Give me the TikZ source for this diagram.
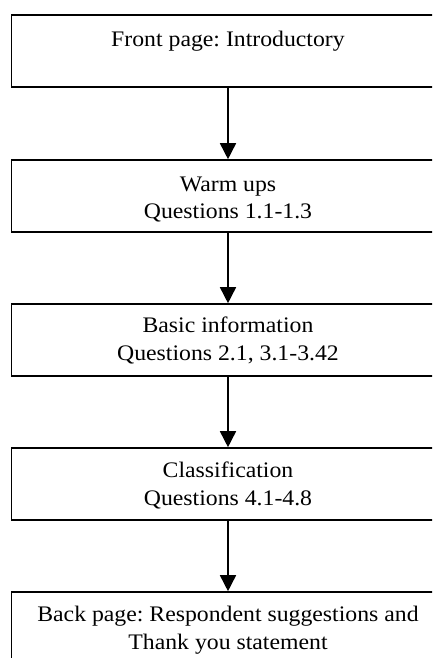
\documentclass[tikz,border=0pt]{standalone}
\usepackage{fontspec}
\setmainfont{Liberation Serif}[FakeStretch=1.07]
\usetikzlibrary{arrows.meta}
\frenchspacing
\begin{document}
\begin{tikzpicture}[x=1pt,y=1pt,
  stagebox/.style={draw=black, line width=1.6pt, rectangle, inner sep=0pt,
    minimum width=433pt, minimum height=72pt},
  linetext/.style={anchor=base, inner sep=0pt, font=\fontsize{22.2}{27}\selectfont},
  flow/.style={line width=1.6pt, -{Triangle[width=16pt,length=16pt]}}]
\useasboundingbox (0,0) rectangle (432,-658);
\clip (0,0) rectangle (432,-658);

% boxes of the questionnaire sequence
\node[stagebox] (b1) at (228,-51) {};
\node[stagebox] (b2) at (228,-196) {};
\node[stagebox] (b3) at (228,-340) {};
\node[stagebox] (b4) at (228,-484) {};
\node[stagebox] (b5) at (228,-628) {};

% box texts
\node[linetext] (t1) at (228,-46.7) {Front page: Introductory};
\node[linetext] (t2a) at (228,-191.7) {Warm ups};
\node[linetext] (t2b) at (228,-218.3) {Questions 1.1-1.3};
\node[linetext] (t3a) at (228,-332.7) {Basic information};
\node[linetext] (t3b) at (228,-360) {Questions 2.1, 3.1-3.42};
\node[linetext] (t4a) at (228,-477.3) {Classification};
\node[linetext] (t4b) at (228,-505) {Questions 4.1-4.8};
\node[linetext] (t5a) at (228,-621.7) {Back page: Respondent suggestions and};
\node[linetext] (t5b) at (228,-649.3) {Thank you statement};

% connectors
\draw[flow] (b1.south) -- (b2.north);
\draw[flow] (b2.south) -- (b3.north);
\draw[flow] (b3.south) -- (b4.north);
\draw[flow] (b4.south) -- (b5.north);
\end{tikzpicture}
\end{document}
